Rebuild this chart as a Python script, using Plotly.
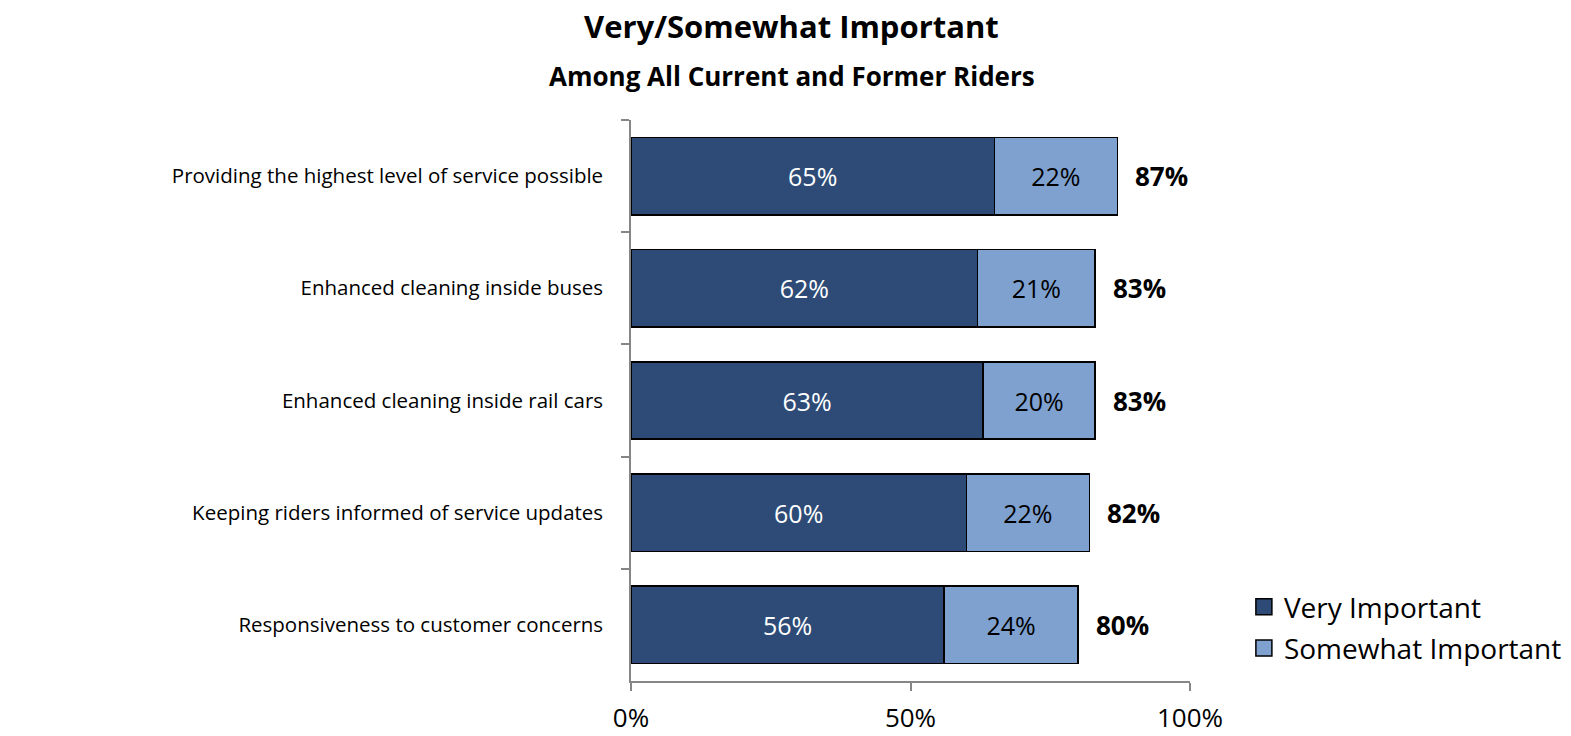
import plotly.graph_objects as go

categories = [
    "Providing the highest level of service possible",
    "Enhanced cleaning inside buses",
    "Enhanced cleaning inside rail cars",
    "Keeping riders informed of service updates",
    "Responsiveness to customer concerns",
]
very = [65, 62, 63, 60, 56]
somewhat = [22, 21, 20, 22, 24]
totals = [87, 83, 83, 82, 80]
x_ticks = [0, 50, 100]
x_tick_labels = ["0%", "50%", "100%"]
series_names = ["Very Important", "Somewhat Important"]

FONT = "Open Sans"
DARK = "#2D4B76"
LIGHT = "#7FA1D0"
GRAY = "#868686"

fig = go.Figure()
fig.add_trace(go.Bar(
    y=categories, x=very, orientation="h", name=series_names[0],
    marker=dict(color=DARK, line=dict(color="black", width=1.5)),
    text=[f"{v}%" for v in very], textposition="inside", insidetextanchor="middle",
    textfont=dict(color="white", size=25, family=FONT),
    showlegend=False, hoverinfo="skip",
))
fig.add_trace(go.Bar(
    y=categories, x=somewhat, orientation="h", name=series_names[1],
    marker=dict(color=LIGHT, line=dict(color="black", width=1.5)),
    text=[f"{v}%" for v in somewhat], textposition="inside", insidetextanchor="middle",
    textfont=dict(color="black", size=25, family=FONT),
    showlegend=False, hoverinfo="skip",
))
# legend entries (larger square swatches)
for name, col, grp in [(series_names[0], DARK, "a"), (series_names[1], LIGHT, "b")]:
    fig.add_trace(go.Scatter(
        x=[None], y=[None], mode="markers", name=name, legendgroup=grp,
        marker=dict(symbol="square", size=16, color=col, line=dict(color="black", width=1.5)),
        hoverinfo="skip",
    ))

annotations = [
    dict(text=f"<b>{t}%</b>", x=t, y=c, xref="x", yref="y", xanchor="left", yanchor="middle",
         xshift=16, showarrow=False, font=dict(size=26, family=FONT, color="black"))
    for c, t in zip(categories, totals)
]
annotations += [
    dict(text="<b>Very/Somewhat Important</b>", xref="paper", yref="paper",
         x=0.2875, y=1.168, xanchor="center", yanchor="middle", showarrow=False,
         font=dict(size=31, family=FONT, color="black")),
    dict(text="<b>Among All Current and Former Riders</b>", xref="paper", yref="paper",
         x=0.2875, y=1.079, xanchor="center", yanchor="middle", showarrow=False,
         font=dict(size=26, family=FONT, color="black")),
]

fig.update_layout(
    width=1571, height=736,
    margin=dict(l=631, r=381, t=120, b=55, autoexpand=False),
    barmode="stack", bargap=0.31,
    plot_bgcolor="white", paper_bgcolor="white",
    font=dict(family=FONT, size=22, color="black"),
    showlegend=True,
    legend=dict(
        x=1.0964, y=0.1765, xanchor="left", yanchor="top",
        traceorder="grouped", tracegroupgap=2, itemsizing="trace",
        font=dict(size=28, family=FONT, color="black"),
        itemwidth=30, bgcolor="rgba(0,0,0,0)",
    ),
    xaxis=dict(
        range=[0, 100], tickvals=x_ticks, ticktext=x_tick_labels,
        showgrid=False, zeroline=False, showline=True, linecolor=GRAY, linewidth=1.5,
        ticks="outside", ticklen=8, tickcolor=GRAY, tickwidth=1.5,
        tickfont=dict(size=26, family=FONT, color="black"), ticklabelstandoff=5,
    ),
    yaxis=dict(
        categoryorder="array", categoryarray=categories, autorange="reversed",
        showgrid=False, zeroline=False, showline=True, linecolor=GRAY, linewidth=1.5,
        ticks="outside", ticklen=8, tickcolor=GRAY, tickwidth=1.5, tickson="boundaries",
        tickfont=dict(size=20.5, family=FONT, color="black"), ticklabelstandoff=22,
    ),
    annotations=annotations,
)

fig.write_html("out.html")
